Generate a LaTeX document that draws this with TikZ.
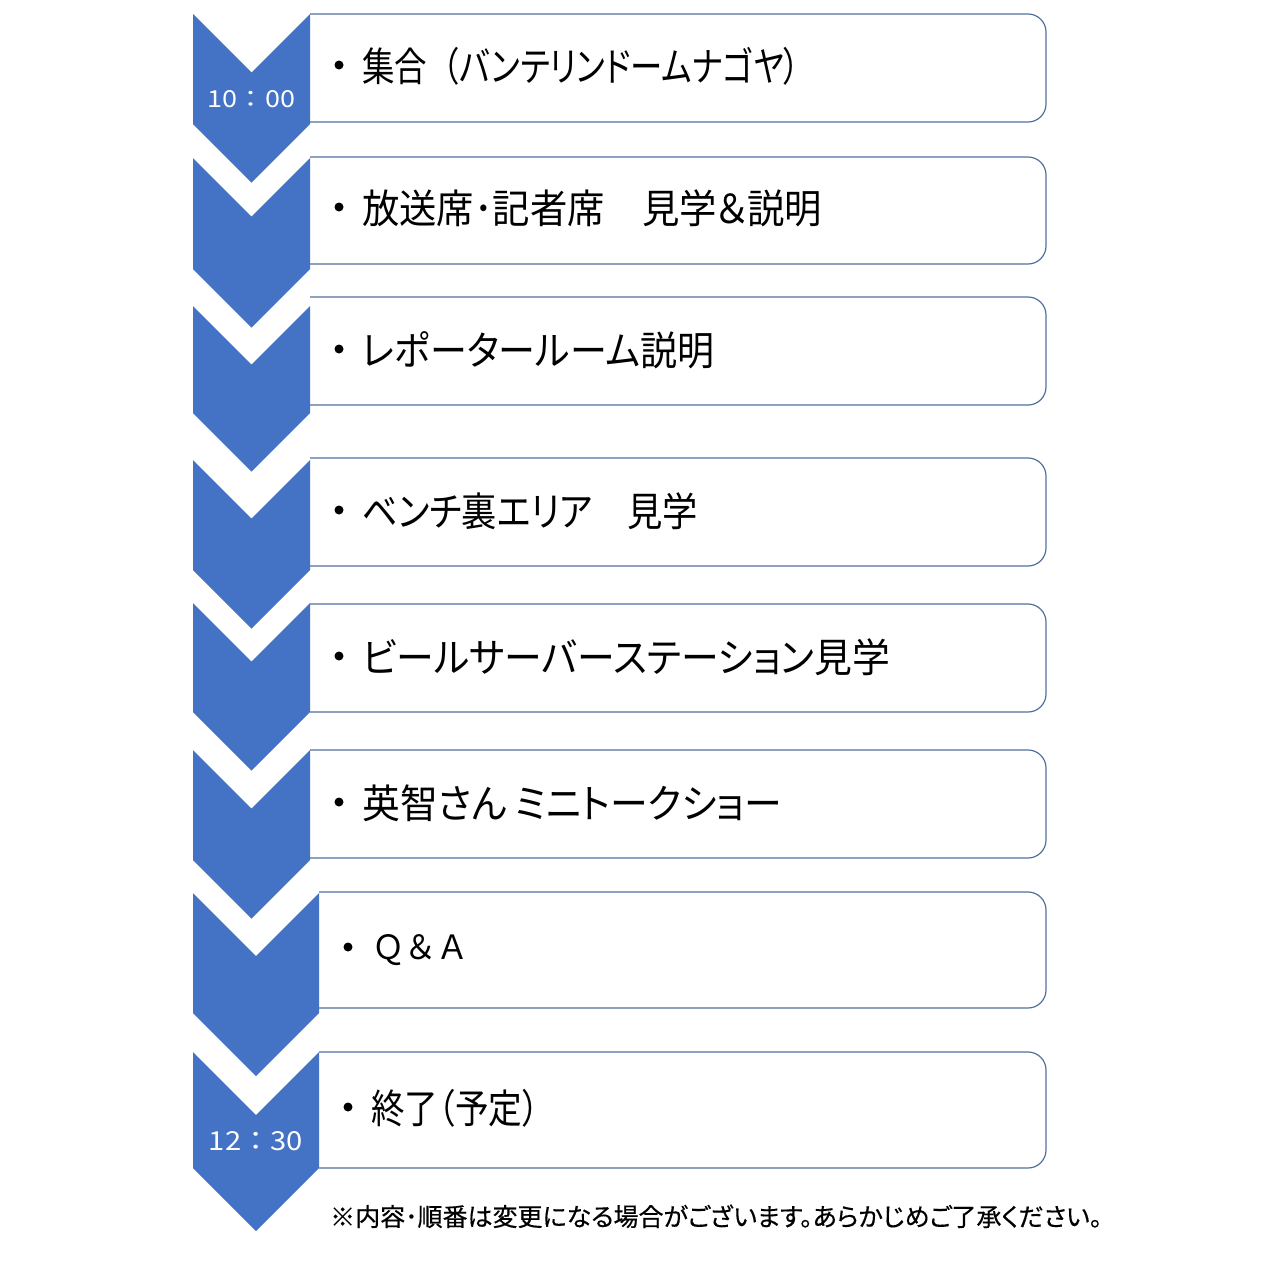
\documentclass[tikz,border=0pt]{standalone}
\usepackage{fontspec}
\usepackage{graphicx}
\setmainfont{Noto Sans CJK JP}[RawFeature=+palt]
\newfontfamily\jpfont{Noto Sans CJK JP}[RawFeature=+palt]
\newfontfamily\jpplain{Noto Sans CJK JP}
\newfontfamily\jpnote{Noto Sans CJK JP}[RawFeature=+palt,FakeBold=0.4]
\definecolor{chevblue}{RGB}{68,114,196}
\definecolor{boxblue}{RGB}{82,112,158}
\newcommand\fitw[2]{\resizebox{#1}{\height}{#2}}
\newcommand\fitwh[3]{\resizebox{#1}{#2}{#3}}
\newcommand\mychev[4]{%
  \fill[chev] (#1,#3) -- ({(#1+#2)/2},{#3+(#2-#1)/2}) -- (#2,#3) -- (#2,#4)
    -- ({(#1+#2)/2},{#4+(#2-#1)/2}) -- (#1,#4) -- cycle;}
\newcommand\mybox[3]{%
  \draw[boxline] (#1,#2) -- (1046,#2) -- (1046,#3) -- (#1,#3);}
\begin{document}
\begin{tikzpicture}[x=1pt,y=-1pt,
  chev/.style={fill=chevblue},
  boxline/.style={draw=boxblue,line width=1.2pt,rounded corners=18pt,fill=white},
  item/.style={anchor=base west,inner sep=0pt,font=\jpfont\fontsize{40pt}{48pt}\selectfont},
  bul/.style={circle,fill=black,inner sep=0pt,minimum size=9pt},
  timelbl/.style={anchor=base,inner sep=0pt,text=white,font=\jpplain\fontsize{24pt}{28pt}\selectfont},
  note/.style={anchor=base west,inner sep=0pt,font=\jpnote\fontsize{25pt}{30pt}\selectfont}]
\fill[white] (0,0) rectangle (1280,1280);
\useasboundingbox (0,0) rectangle (1280,1280);
% boxes
\mybox{310}{14}{122}
\mybox{310}{157}{264}
\mybox{310}{297}{405}
\mybox{310}{458}{566}
\mybox{310}{604}{712}
\mybox{310}{750}{858}
\mybox{319}{892}{1008}
\mybox{319}{1052}{1168}
% chevrons
\mychev{193}{310}{14}{124}
\mychev{193}{310}{158}{269}
\mychev{193}{310}{306}{413}
\mychev{193}{310}{460}{570}
\mychev{193}{310}{603}{712}
\mychev{193}{310}{750}{860}
\mychev{193}{319}{893}{1013}
\mychev{193}{319}{1052}{1168}
% time labels
\node[timelbl] (t1) at (251.5,107) {\fitwh{87pt}{17pt}{10：00}};
\node[timelbl] (t2) at (256,1150) {\fitwh{94pt}{19pt}{12：30}};
% bullets
\node[bul] (b1) at (339,65) {};
\node[bul] (b2) at (339,207) {};
\node[bul] (b3) at (339,349) {};
\node[bul] (b4) at (339,510) {};
\node[bul] (b5) at (339,656) {};
\node[bul] (b6) at (339,802) {};
\node[bul] (b7) at (348,947) {};
\node[bul] (b8) at (348,1107) {};
% items
\node[item] (i1) at (362,81) {\fitw{438pt}{集合{\jpplain （}バンテリンドームナゴヤ）}};
\node[item] (i2) at (362,223) {\fitw{460pt}{放送席･記者席　見学＆説明}};
\node[item] (i3) at (362,365) {\fitw{352pt}{レポータールーム説明}};
\node[item] (i4) at (362,526) {\fitw{336pt}{ベンチ裏エリア　見学}};
\node[item] (i5) at (362,672) {\fitw{528pt}{ビールサーバーステーション見学}};
\node[item] (i6) at (362,818) {\fitw{420pt}{英智さん ミニトークショー}};
\node[item] (i7) at (372,959) {\fitwh{97pt}{25pt}{{\jpplain Ｑ＆Ａ}}};
\node[item] (i8) at (371,1123) {\fitw{168pt}{終了（予定）}};
% note
\node[note] (n) at (330,1226) {\fitw{772pt}{※内容･順番は変更になる場合がございます。あらかじめご了承ください。}};
\end{tikzpicture}
\end{document}
